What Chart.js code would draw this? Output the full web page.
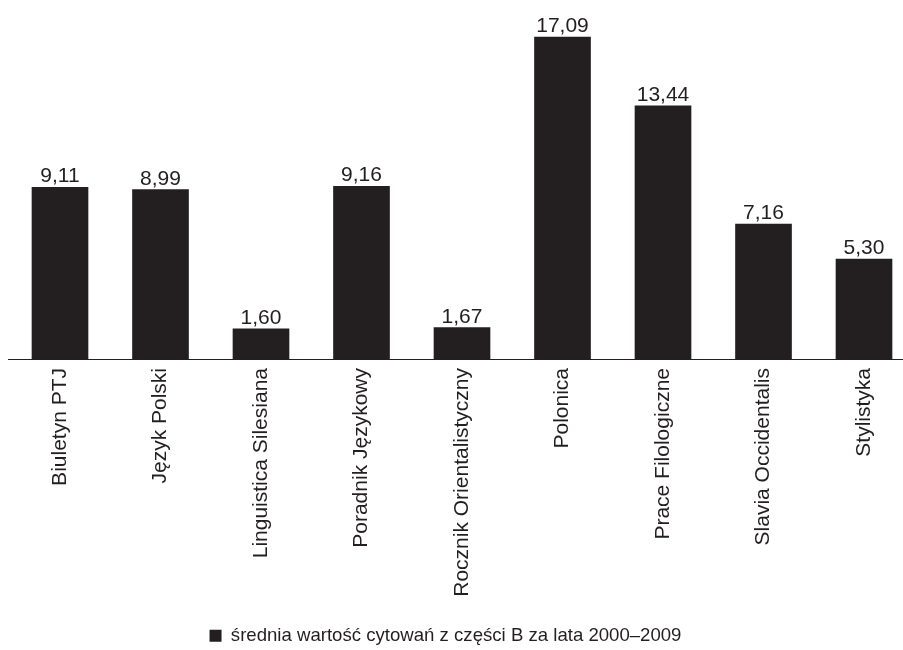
<!DOCTYPE html>
<html>
<head>
<meta charset="utf-8">
<script src="https://cdn.jsdelivr.net/npm/chart.js@4/dist/chart.umd.min.js"></script>
<style>
html,body{margin:0;padding:0;background:#fff;}
#wrap{width:903px;height:650px;position:relative;}
</style>
</head>
<body>
<div id="wrap"><canvas id="c" width="903" height="650"></canvas></div>
<script>
const categories = ["Biuletyn PTJ","Język Polski","Linguistica Silesiana","Poradnik Językowy","Rocznik Orientalistyczny","Polonica","Prace Filologiczne","Slavia Occidentalis","Stylistyka"];
const values = [9.11, 8.99, 1.60, 9.16, 1.67, 17.09, 13.44, 7.16, 5.30];
const seriesLabel = "średnia wartość cytowań z części B za lata 2000–2009";

const INK = '#231f20';
const FONT = "'Liberation Sans', Arial, sans-serif";
const X_MIN = -0.5174, X_MAX = 8.388;
const BASELINE_Y = 359;

const valueLabels = {
  id: 'valueLabels',
  afterDatasetsDraw(chart) {
    const ctx = chart.ctx;
    const meta = chart.getDatasetMeta(0);
    ctx.save();
    ctx.font = "21px " + FONT;
    ctx.fillStyle = INK;
    ctx.textAlign = 'center';
    ctx.textBaseline = 'alphabetic';
    meta.data.forEach((bar, i) => {
      ctx.fillText(values[i].toFixed(2).replace('.', ','), bar.x, bar.y - 5);
    });
    ctx.restore();
  }
};

const legendShift = {
  id: 'legendShift',
  afterLayout(chart) {
    const lg = chart.legend;
    if (!lg) return;
    lg.left -= 10; lg.right -= 10;
    lg.top += 5; lg.bottom += 5;
  }
};

new Chart(document.getElementById('c'), {
  type: 'bar',
  data: {
    datasets: [{
      label: seriesLabel,
      data: values.map((v, i) => ({x: i, y: v})),
      backgroundColor: INK,
      borderWidth: 0,
      barThickness: 56
    }]
  },
  options: {
    responsive: false,
    animation: false,
    devicePixelRatio: 1,
    layout: {padding: {left: 8, right: 0, top: 1, bottom: 0}},
    scales: {
      x: {
        type: 'linear',
        offset: false,
        bounds: 'data',
        min: X_MIN,
        max: X_MAX,
        grid: {display: false, drawTicks: false, offset: false},
        border: {display: true, color: INK, width: 1},
        afterBuildTicks(scale) {
          scale.ticks = categories.map((c, i) => ({value: i}));
          scale.min = X_MIN;
          scale.max = X_MAX;
        },
        afterFit(scale) {
          const lh = scale.chart.legend ? scale.chart.legend.height : 0;
          scale.height = scale.chart.height - BASELINE_Y - lh;
        },
        ticks: {
          autoSkip: false,
          minRotation: 90,
          maxRotation: 90,
          padding: 9,
          color: INK,
          font: {family: FONT, size: 21},
          callback: (v) => categories[v]
        }
      },
      y: {
        display: false,
        min: 0,
        max: 19
      }
    },
    plugins: {
      legend: {
        position: 'bottom',
        labels: {
          boxWidth: 12,
          boxHeight: 12,
          padding: 1,
          color: INK,
          font: {family: FONT, size: 18.6}
        }
      },
      tooltip: {enabled: false}
    }
  },
  plugins: [valueLabels, legendShift]
});
</script>
</body>
</html>
